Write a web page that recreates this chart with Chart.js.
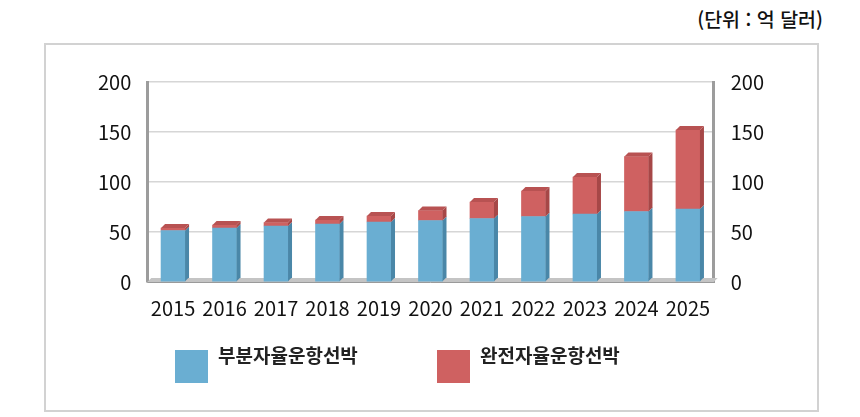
<!DOCTYPE html>
<html lang="ko">
<head>
<meta charset="utf-8">
<script src="https://cdn.jsdelivr.net/npm/chart.js@4.4.1/dist/chart.umd.min.js"></script>
<style>
  html, body { margin: 0; padding: 0; background: #fff; }
  #wrap { position: relative; width: 860px; height: 417px; font-family: "Noto Sans CJK KR", "Noto Sans", sans-serif; }
  #frame { position: absolute; left: 44px; top: 43px; width: 771px; height: 365px; border: 2px solid #d2d2d2; box-sizing: content-box; }
  #unit { position: absolute; right: 37px; top: 4px; font-size: 19.5px; color: #111; font-weight: 500; }
  canvas { position: absolute; left: 0; top: 0; }
  #legend { position: absolute; left: 0; top: 0; width: 860px; height: 417px; pointer-events: none; }
  .lg-box { position: absolute; width: 33px; height: 33px; }
  .lg-text { position: absolute; font-size: 19px; font-weight: bold; color: #222; line-height: 22px; white-space: nowrap; }
</style>
</head>
<body>
<div id="wrap">
  <div id="frame"></div>
  <div id="unit">(단위 : 억 달러)</div>
  <canvas id="c" width="860" height="417"></canvas>
  <div id="legend"></div>
</div>
<script>
const categories = ["2015","2016","2017","2018","2019","2020","2021","2022","2023","2024","2025"];
const seriesNames = ["부분자율운항선박", "완전자율운항선박"];
const partialValues = [51.5, 54, 56, 58, 60, 61.5, 63.5, 65.5, 68, 70.5, 73];
const fullValues = [2.5, 3, 3.5, 4, 6, 10, 16.5, 25.5, 37, 55, 79];
const yTicks = [0, 50, 100, 150, 200];

const colors = ["#6aaed2", "#cf6161"];
const sideColors = ["#4a87a8", "#a64747"];
const topColors = ["#8cc3de", "#b85252"];
const FONT = '"Noto Sans CJK KR", "Noto Sans", sans-serif';
const DEPTH = 4;

const bar3d = {
  id: 'bar3d',
  beforeDatasetsDraw(chart) {
    const {ctx, chartArea: a} = chart;
    ctx.save();
    ctx.fillStyle = '#c4c4c4';
    ctx.beginPath();
    ctx.moveTo(a.left, a.bottom);
    ctx.lineTo(a.right, a.bottom);
    ctx.lineTo(a.right + DEPTH, a.bottom - DEPTH);
    ctx.lineTo(a.left + DEPTH, a.bottom - DEPTH);
    ctx.closePath();
    ctx.fill();
    ctx.strokeStyle = '#9a9a9a';
    ctx.lineWidth = 1;
    ctx.beginPath();
    ctx.moveTo(a.left, a.bottom + 0.5);
    ctx.lineTo(a.right, a.bottom + 0.5);
    ctx.stroke();
    ctx.restore();
  },
  afterDatasetsDraw(chart) {
    const {ctx} = chart;
    ctx.save();
    const n = chart.data.datasets.length;
    chart.data.datasets.forEach((ds, di) => {
      const meta = chart.getDatasetMeta(di);
      meta.data.forEach((el) => {
        const p = el.getProps(['x', 'y', 'base', 'width'], true);
        const r = p.x + p.width / 2;
        const l = p.x - p.width / 2;
        ctx.fillStyle = sideColors[di];
        ctx.beginPath();
        ctx.moveTo(r, p.base);
        ctx.lineTo(r, p.y);
        ctx.lineTo(r + DEPTH, p.y - DEPTH);
        ctx.lineTo(r + DEPTH, p.base - DEPTH);
        ctx.closePath();
        ctx.fill();
        if (di === n - 1) {
          ctx.fillStyle = topColors[di];
          ctx.beginPath();
          ctx.moveTo(l, p.y);
          ctx.lineTo(r, p.y);
          ctx.lineTo(r + DEPTH, p.y - DEPTH);
          ctx.lineTo(l + DEPTH, p.y - DEPTH);
          ctx.closePath();
          ctx.fill();
        }
      });
    });
    ctx.restore();
  }
};

const htmlLegend = {
  id: 'htmlLegend',
  afterUpdate(chart) {
    const host = document.getElementById('legend');
    host.innerHTML = '';
    const pos = [175, 437];
    chart.data.datasets.forEach((ds, i) => {
      const b = document.createElement('div');
      b.className = 'lg-box';
      b.style.left = pos[i] + 'px';
      b.style.top = '350px';
      b.style.background = ds.backgroundColor;
      host.appendChild(b);
      const t = document.createElement('div');
      t.className = 'lg-text';
      t.style.left = (pos[i] + 43) + 'px';
      t.style.top = '344px';
      t.textContent = ds.label;
      host.appendChild(t);
    });
  }
};

const tickFont = { family: FONT, size: 20 };

new Chart(document.getElementById('c'), {
  type: 'bar',
  data: {
    labels: categories,
    datasets: [
      { label: seriesNames[0], data: partialValues, backgroundColor: colors[0], stack: 's', yAxisID: 'y' },
      { label: seriesNames[1], data: fullValues, backgroundColor: colors[1], stack: 's', yAxisID: 'y' }
    ]
  },
  options: {
    responsive: false,
    animation: false,
    layout: { padding: { left: 82, right: 79, top: 82, bottom: 83 } },
    datasets: { bar: { barThickness: 24 } },
    plugins: {
      legend: { display: false },
      tooltip: { enabled: false }
    },
    scales: {
      x: {
        stacked: true,
        grid: { display: false, drawTicks: false },
        border: { display: false },
        ticks: { font: tickFont, color: '#111', padding: 14, maxRotation: 0, autoSkip: false }
      },
      y: {
        stacked: true,
        position: 'left',
        min: 0, max: 200,
        afterBuildTicks(scale) { scale.ticks = yTicks.map(v => ({ value: v })); },
        grid: { color: '#d6d6d6', lineWidth: 1.5, drawTicks: false },
        border: { display: true, color: '#9c9c9c', width: 3 },
        ticks: { font: tickFont, color: '#111', padding: 16 }
      },
      y2: {
        position: 'right',
        min: 0, max: 200,
        afterBuildTicks(scale) { scale.ticks = yTicks.map(v => ({ value: v })); },
        grid: { display: false, drawTicks: false },
        border: { display: true, color: '#9c9c9c', width: 3 },
        ticks: { font: tickFont, color: '#111', padding: 17 }
      }
    }
  },
  plugins: [bar3d, htmlLegend]
});
</script>
</body>
</html>
